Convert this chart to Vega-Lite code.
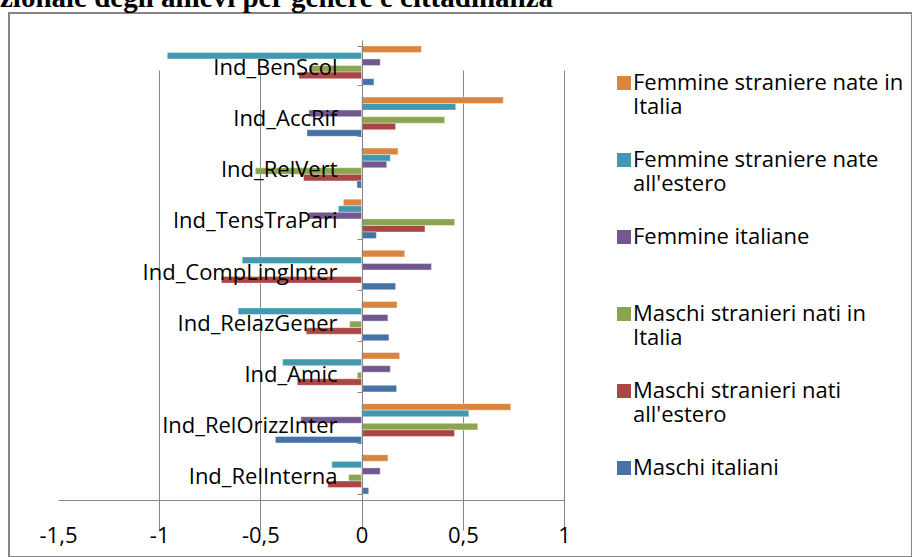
{
  "$schema": "https://vega.github.io/schema/vega-lite/v6.json",
  "width": 903,
  "height": 544,
  "autosize": {"type": "none"},
  "padding": {"left": 9, "top": 13, "right": 0, "bottom": 0},
  "background": "white",
  "title": {
    "text": "zionale degli allievi per genere e cittadinanza",
    "font": "Liberation Serif",
    "fontSize": 29,
    "fontWeight": "bold",
    "color": "#000000",
    "anchor": "start",
    "frame": "group",
    "baseline": "alphabetic",
    "offset": 4,
    "dx": -9,
    "dy": 38
  },
  "config": {
    "view": {"stroke": "#868686", "strokeWidth": 2},
    "locale": {"number": {"decimal": ",", "thousands": ".", "grouping": [3], "currency": ["€", ""], "minus": "-"}}
  },
  "data": {
    "values": [
      {"indicatore": "Ind_BenScol", "gruppo": "Femmine straniere nate in Italia", "valore": 0.295},
      {"indicatore": "Ind_BenScol", "gruppo": "Femmine straniere nate all'estero", "valore": -0.96},
      {"indicatore": "Ind_BenScol", "gruppo": "Femmine italiane", "valore": 0.092},
      {"indicatore": "Ind_BenScol", "gruppo": "Maschi stranieri nati in Italia", "valore": -0.26},
      {"indicatore": "Ind_BenScol", "gruppo": "Maschi stranieri nati all'estero", "valore": -0.31},
      {"indicatore": "Ind_BenScol", "gruppo": "Maschi italiani", "valore": 0.061},
      {"indicatore": "Ind_AccRif", "gruppo": "Femmine straniere nate in Italia", "valore": 0.70},
      {"indicatore": "Ind_AccRif", "gruppo": "Femmine straniere nate all'estero", "valore": 0.465},
      {"indicatore": "Ind_AccRif", "gruppo": "Femmine italiane", "valore": -0.26},
      {"indicatore": "Ind_AccRif", "gruppo": "Maschi stranieri nati in Italia", "valore": 0.41},
      {"indicatore": "Ind_AccRif", "gruppo": "Maschi stranieri nati all'estero", "valore": 0.168},
      {"indicatore": "Ind_AccRif", "gruppo": "Maschi italiani", "valore": -0.27},
      {"indicatore": "Ind_RelVert", "gruppo": "Femmine straniere nate in Italia", "valore": 0.18},
      {"indicatore": "Ind_RelVert", "gruppo": "Femmine straniere nate all'estero", "valore": 0.142},
      {"indicatore": "Ind_RelVert", "gruppo": "Femmine italiane", "valore": 0.124},
      {"indicatore": "Ind_RelVert", "gruppo": "Maschi stranieri nati in Italia", "valore": -0.525},
      {"indicatore": "Ind_RelVert", "gruppo": "Maschi stranieri nati all'estero", "valore": -0.287},
      {"indicatore": "Ind_RelVert", "gruppo": "Maschi italiani", "valore": -0.023},
      {"indicatore": "Ind_TensTraPari", "gruppo": "Femmine straniere nate in Italia", "valore": -0.09},
      {"indicatore": "Ind_TensTraPari", "gruppo": "Femmine straniere nate all'estero", "valore": -0.115},
      {"indicatore": "Ind_TensTraPari", "gruppo": "Femmine italiane", "valore": -0.26},
      {"indicatore": "Ind_TensTraPari", "gruppo": "Maschi stranieri nati in Italia", "valore": 0.46},
      {"indicatore": "Ind_TensTraPari", "gruppo": "Maschi stranieri nati all'estero", "valore": 0.313},
      {"indicatore": "Ind_TensTraPari", "gruppo": "Maschi italiani", "valore": 0.073},
      {"indicatore": "Ind_CompLingInter", "gruppo": "Femmine straniere nate in Italia", "valore": 0.213},
      {"indicatore": "Ind_CompLingInter", "gruppo": "Femmine straniere nate all'estero", "valore": -0.59},
      {"indicatore": "Ind_CompLingInter", "gruppo": "Femmine italiane", "valore": 0.345},
      {"indicatore": "Ind_CompLingInter", "gruppo": "Maschi stranieri nati in Italia", "valore": 0.0},
      {"indicatore": "Ind_CompLingInter", "gruppo": "Maschi stranieri nati all'estero", "valore": -0.693},
      {"indicatore": "Ind_CompLingInter", "gruppo": "Maschi italiani", "valore": 0.168},
      {"indicatore": "Ind_RelazGener", "gruppo": "Femmine straniere nate in Italia", "valore": 0.175},
      {"indicatore": "Ind_RelazGener", "gruppo": "Femmine straniere nate all'estero", "valore": -0.61},
      {"indicatore": "Ind_RelazGener", "gruppo": "Femmine italiane", "valore": 0.13},
      {"indicatore": "Ind_RelazGener", "gruppo": "Maschi stranieri nati in Italia", "valore": -0.059},
      {"indicatore": "Ind_RelazGener", "gruppo": "Maschi stranieri nati all'estero", "valore": -0.274},
      {"indicatore": "Ind_RelazGener", "gruppo": "Maschi italiani", "valore": 0.135},
      {"indicatore": "Ind_Amic", "gruppo": "Femmine straniere nate in Italia", "valore": 0.188},
      {"indicatore": "Ind_Amic", "gruppo": "Femmine straniere nate all'estero", "valore": -0.39},
      {"indicatore": "Ind_Amic", "gruppo": "Femmine italiane", "valore": 0.142},
      {"indicatore": "Ind_Amic", "gruppo": "Maschi stranieri nati in Italia", "valore": -0.021},
      {"indicatore": "Ind_Amic", "gruppo": "Maschi stranieri nati all'estero", "valore": -0.318},
      {"indicatore": "Ind_Amic", "gruppo": "Maschi italiani", "valore": 0.173},
      {"indicatore": "Ind_RelOrizzInter", "gruppo": "Femmine straniere nate in Italia", "valore": 0.737},
      {"indicatore": "Ind_RelOrizzInter", "gruppo": "Femmine straniere nate all'estero", "valore": 0.53},
      {"indicatore": "Ind_RelOrizzInter", "gruppo": "Femmine italiane", "valore": -0.30},
      {"indicatore": "Ind_RelOrizzInter", "gruppo": "Maschi stranieri nati in Italia", "valore": 0.574},
      {"indicatore": "Ind_RelOrizzInter", "gruppo": "Maschi stranieri nati all'estero", "valore": 0.459},
      {"indicatore": "Ind_RelOrizzInter", "gruppo": "Maschi italiani", "valore": -0.426},
      {"indicatore": "Ind_RelInterna", "gruppo": "Femmine straniere nate in Italia", "valore": 0.13},
      {"indicatore": "Ind_RelInterna", "gruppo": "Femmine straniere nate all'estero", "valore": -0.147},
      {"indicatore": "Ind_RelInterna", "gruppo": "Femmine italiane", "valore": 0.092},
      {"indicatore": "Ind_RelInterna", "gruppo": "Maschi stranieri nati in Italia", "valore": -0.064},
      {"indicatore": "Ind_RelInterna", "gruppo": "Maschi stranieri nati all'estero", "valore": -0.167},
      {"indicatore": "Ind_RelInterna", "gruppo": "Maschi italiani", "valore": 0.035}
    ]
  },
  "mark": {"type": "bar", "stroke": "#ffffff", "strokeWidth": 0.4},
  "encoding": {
    "x": {
      "field": "valore",
      "type": "quantitative",
      "scale": {"domain": [-1.5, 1], "range": [49, 555], "nice": false, "zero": false},
      "axis": {
        "title": null,
        "orient": "bottom",
        "offset": -57,
        "values": [-1.5, -1, -0.5, 0, 0.5, 1],
        "format": "~g",
        "grid": true,
        "gridColor": "#868686",
        "gridWidth": 1,
        "gridOpacity": {"condition": {"test": "datum.value == -1.5", "value": 0}, "value": 1},
        "tickOpacity": {"condition": {"test": "datum.value == -1.5", "value": 0}, "value": 1},
        "tickColor": "#868686",
        "tickSize": 8,
        "tickWidth": 1,
        "domainColor": "#868686",
        "domainWidth": 1,
        "labelFont": "Open Sans",
        "labelFontSize": 22,
        "labelColor": "#000000",
        "labelBaseline": "alphabetic",
        "labelPadding": 34,
        "labelFlush": false,
        "zindex": 0
      }
    },
    "y": {
      "field": "indicatore",
      "type": "nominal",
      "sort": ["Ind_BenScol", "Ind_AccRif", "Ind_RelVert", "Ind_TensTraPari", "Ind_CompLingInter", "Ind_RelazGener", "Ind_Amic", "Ind_RelOrizzInter", "Ind_RelInterna"],
      "scale": {"range": [27, 487], "paddingInner": 0.23, "paddingOuter": 0.115},
      "axis": {
        "title": null,
        "orient": "left",
        "offset": -353,
        "domainColor": "#868686",
        "domainWidth": 1,
        "ticks": true,
        "tickBand": "extent",
        "tickSize": 5,
        "tickColor": "#868686",
        "labelFont": "Open Sans",
        "labelFontSize": 22,
        "labelColor": "#000000",
        "labelPadding": 20,
        "labelOffset": 2,
        "labelLimit": 400,
        "grid": false,
        "zindex": 1
      }
    },
    "yOffset": {
      "field": "gruppo",
      "type": "nominal",
      "sort": ["Femmine straniere nate in Italia", "Femmine straniere nate all'estero", "Femmine italiane", "Maschi stranieri nati in Italia", "Maschi stranieri nati all'estero", "Maschi italiani"],
      "scale": {"paddingInner": 0, "paddingOuter": 0}
    },
    "color": {
      "field": "gruppo",
      "type": "nominal",
      "scale": {
        "domain": ["Femmine straniere nate in Italia", "Femmine straniere nate all'estero", "Femmine italiane", "Maschi stranieri nati in Italia", "Maschi stranieri nati all'estero", "Maschi italiani"],
        "range": ["#DB843D", "#4198AF", "#71588F", "#89A54E", "#AA4643", "#4572A7"]
      },
      "legend": {
        "title": null,
        "orient": "none",
        "legendX": 604,
        "legendY": 59,
        "symbolType": "square",
        "symbolSize": 196,
        "symbolStrokeWidth": 0,
        "symbolOpacity": 1,
        "labelFont": "Open Sans",
        "labelFontSize": 22,
        "labelColor": "#000000",
        "labelOffset": -2,
        "labelLimit": 400,
        "labelBaseline": "middle",
        "rowPadding": 31,
        "labelExpr": "length(datum.label) > 20 ? [substring(datum.label, 0, lastindexof(datum.label, ' ')), substring(datum.label, lastindexof(datum.label, ' ') + 1)] : [datum.label, ' ']",
        "encode": {
          "labels": {"update": {"lineHeight": {"value": 29}, "dy": {"value": 14}}}
        }
      }
    }
  }
}
